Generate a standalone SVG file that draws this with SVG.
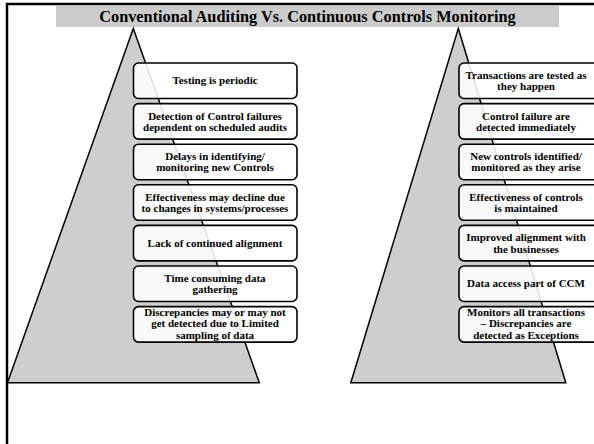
<svg xmlns="http://www.w3.org/2000/svg" width="594" height="444" viewBox="0 0 594 444">
<style>
.tri{fill:#cecece;stroke:#000;stroke-width:1.5;stroke-linejoin:miter}
.box{fill:#fff;fill-opacity:0.88;stroke:#000;stroke-width:1.6}
.t{font-family:'Liberation Serif','Times New Roman',serif;font-weight:bold;font-size:11px;fill:#000;text-anchor:middle}
.title{font-family:'Liberation Serif','Times New Roman',serif;font-weight:bold;font-size:16.3px;fill:#000;text-anchor:middle}
</style>
<rect width="594" height="444" fill="#fff"/>
<g id="frame">
<path d="M7,444 V4 H594" fill="none" stroke="#000" stroke-width="2.5"/>
</g>
<g id="title">
<rect x="56" y="6" width="503" height="21" fill="#cccccc"/>
<text class="title" x="307.5" y="22">Conventional Auditing Vs. Continuous Controls Monitoring</text>
</g>
<g id="left-triangle">
<polygon class="tri" points="133.3,28.5 259.3,382.7 7.5,382.7"/>
</g>
<g id="right-triangle">
<polygon class="tri" points="458.3,28.5 565.8,382.7 350.8,382.7"/>
</g>
<g id="l1"><rect class="box" x="133.5" y="63" width="163.5" height="35.5" rx="5"/><text class="t" x="215" y="84.3">Testing is periodic</text></g>
<g id="l2"><rect class="box" x="133.5" y="103.6" width="163.5" height="35.5" rx="5"/><text class="t" x="215" y="119.6">Detection of Control failures</text><text class="t" x="215" y="130.8">dependent on scheduled audits</text></g>
<g id="l3"><rect class="box" x="133.5" y="144.2" width="163.5" height="35.5" rx="5"/><text class="t" x="215" y="160.2">Delays in identifying/</text><text class="t" x="215" y="171.4">monitoring new Controls</text></g>
<g id="l4"><rect class="box" x="133.5" y="184.8" width="163.5" height="35.5" rx="5"/><text class="t" x="215" y="200.8">Effectiveness may decline due</text><text class="t" x="215" y="212">to changes in systems/processes</text></g>
<g id="l5"><rect class="box" x="133.5" y="225.4" width="163.5" height="35.5" rx="5"/><text class="t" x="215" y="246.7">Lack of continued alignment</text></g>
<g id="l6"><rect class="box" x="133.5" y="266" width="163.5" height="35.5" rx="5"/><text class="t" x="215" y="282">Time consuming data</text><text class="t" x="215" y="293.2">gathering</text></g>
<g id="l7"><rect class="box" x="133.5" y="306.6" width="163.5" height="35.5" rx="5"/><text class="t" x="215" y="315.5">Discrepancies may or may not</text><text class="t" x="215" y="327">get detected due to Limited</text><text class="t" x="215" y="338.5">sampling of data</text></g>
<g id="r1"><rect class="box" x="459" y="63" width="163.5" height="35.5" rx="5"/><text class="t" x="526" y="79">Transactions are tested as</text><text class="t" x="526" y="90.2">they happen</text></g>
<g id="r2"><rect class="box" x="459" y="103.6" width="163.5" height="35.5" rx="5"/><text class="t" x="526" y="119.6">Control failure are</text><text class="t" x="526" y="130.8">detected immediately</text></g>
<g id="r3"><rect class="box" x="459" y="144.2" width="163.5" height="35.5" rx="5"/><text class="t" x="526" y="160.2">New controls identified/</text><text class="t" x="526" y="171.4">monitored as they arise</text></g>
<g id="r4"><rect class="box" x="459" y="184.8" width="163.5" height="35.5" rx="5"/><text class="t" x="526" y="200.8">Effectiveness of controls</text><text class="t" x="526" y="212">is maintained</text></g>
<g id="r5"><rect class="box" x="459" y="225.4" width="163.5" height="35.5" rx="5"/><text class="t" x="526" y="241.4">Improved alignment with</text><text class="t" x="526" y="252.6">the businesses</text></g>
<g id="r6"><rect class="box" x="459" y="266" width="163.5" height="35.5" rx="5"/><text class="t" x="526" y="287.3">Data access part of CCM</text></g>
<g id="r7"><rect class="box" x="459" y="306.6" width="163.5" height="35.5" rx="5"/><text class="t" x="526" y="315.5">Monitors all transactions</text><text class="t" x="526" y="327">– Discrepancies are</text><text class="t" x="526" y="338.5">detected as Exceptions</text></g>
</svg>
